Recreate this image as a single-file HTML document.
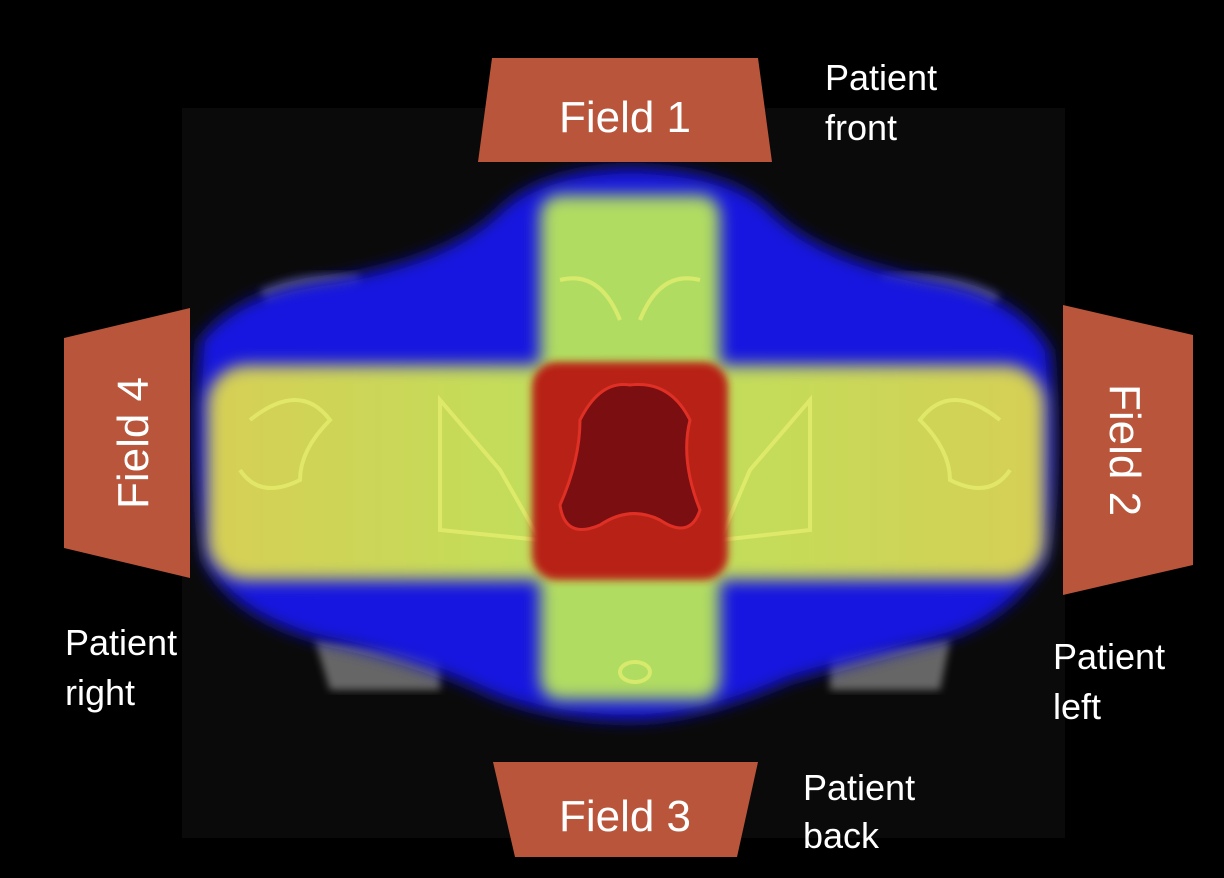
<!DOCTYPE html>
<html><head><meta charset="utf-8"><style>
html,body{margin:0;padding:0;background:#000;}
svg{display:block}
text{font-family:"Liberation Sans",sans-serif;fill:#fff}
</style></head><body>
<svg width="1224" height="878" viewBox="0 0 1224 878">
<defs>
<filter id="b8" x="-20%" y="-20%" width="140%" height="140%"><feGaussianBlur stdDeviation="8"/></filter>
<filter id="b4"><feGaussianBlur stdDeviation="4"/></filter>
<linearGradient id="hg" x1="0" x2="1" y1="0" y2="0">
<stop offset="0" stop-color="#d6cf55"/><stop offset="0.35" stop-color="#c4dc5a"/><stop offset="0.5" stop-color="#b8dc5e"/><stop offset="0.65" stop-color="#c4dc5a"/><stop offset="1" stop-color="#d6cf55"/></linearGradient>
</defs>
<rect width="1224" height="878" fill="#000"/>
<rect x="182" y="108" width="883" height="730" fill="#0a0a0a"/>
<g>
<path d="M315 640 L440 650 L440 690 L330 690 Z" fill="#666" filter="url(#b4)"/>
<path d="M830 650 L950 640 L940 690 L830 690 Z" fill="#666" filter="url(#b4)"/>
<path d="M260 290 Q300 270 360 275 L360 300 L270 310 Z" fill="#555" filter="url(#b4)"/>
<path d="M880 275 Q960 270 1000 295 L990 310 L880 300 Z" fill="#555" filter="url(#b4)"/>
</g>
<path d="M200 340 Q240 290 330 280 Q450 260 500 210 Q540 170 630 168 Q730 170 770 210 Q820 260 930 280 Q1020 295 1050 350 Q1060 470 1045 560 Q1010 620 940 640 Q860 660 790 680 Q700 720 630 720 Q540 720 470 685 Q400 655 320 640 Q230 615 205 560 Q190 450 200 340 Z" fill="#1818e0" filter="url(#b8)"/>
<rect x="540" y="195" width="180" height="505" rx="20" fill="#b0dc62" filter="url(#b8)"/>
<rect x="207" y="365" width="838" height="215" rx="40" fill="url(#hg)" filter="url(#b8)"/>
<g stroke="#e8f070" stroke-width="4" fill="none" opacity="0.7">
<path d="M250 420 Q300 380 330 420 Q300 450 300 480 Q260 500 240 470"/>
<path d="M1000 420 Q950 380 920 420 Q950 450 950 480 Q990 500 1010 470"/>
<path d="M440 400 L500 470 L540 540 L440 530 Z"/>
<path d="M810 400 L750 470 L720 540 L810 530 Z"/>
<path d="M560 280 Q600 270 620 320 M700 280 Q660 270 640 320"/>
<ellipse cx="635" cy="672" rx="15" ry="10"/>
</g>
<rect x="532" y="362" width="196" height="218" rx="25" fill="#b82418" filter="url(#b4)"/>
<path d="M580 420 Q600 380 630 385 Q670 380 690 420 Q680 460 700 510 Q690 540 660 520 Q630 505 600 525 Q565 540 560 505 Q580 460 580 420 Z" fill="#7a0e10" stroke="#e03025" stroke-width="3"/>
<g>
<polygon points="492,58 758,58 772,162 478,162" fill="#b9553a"/>
<text x="625" y="132" font-size="44" text-anchor="middle">Field 1</text></g>
<g>
<polygon points="493,762 758,762 737,857 515,857" fill="#b9553a"/>
<text x="625" y="831" font-size="44" text-anchor="middle">Field 3</text></g>
<g>
<polygon points="64,338 190,308 190,578 64,548" fill="#b9553a"/>
<text transform="translate(148,443) rotate(-90)" font-size="44" text-anchor="middle">Field 4</text></g>
<g>
<polygon points="1063,305 1193,335 1193,565 1063,595" fill="#b9553a"/>
<text transform="translate(1110,450) rotate(90)" font-size="44" text-anchor="middle">Field 2</text></g>
<g font-size="36">
<text x="825" y="90">Patient<tspan x="825" y="140">front</tspan></text>
<text x="65" y="655">Patient<tspan x="65" y="705">right</tspan></text>
<text x="1053" y="669">Patient<tspan x="1053" y="719">left</tspan></text>
<text x="803" y="800">Patient<tspan x="803" y="848">back</tspan></text>
</g>
</svg>
</body></html>
